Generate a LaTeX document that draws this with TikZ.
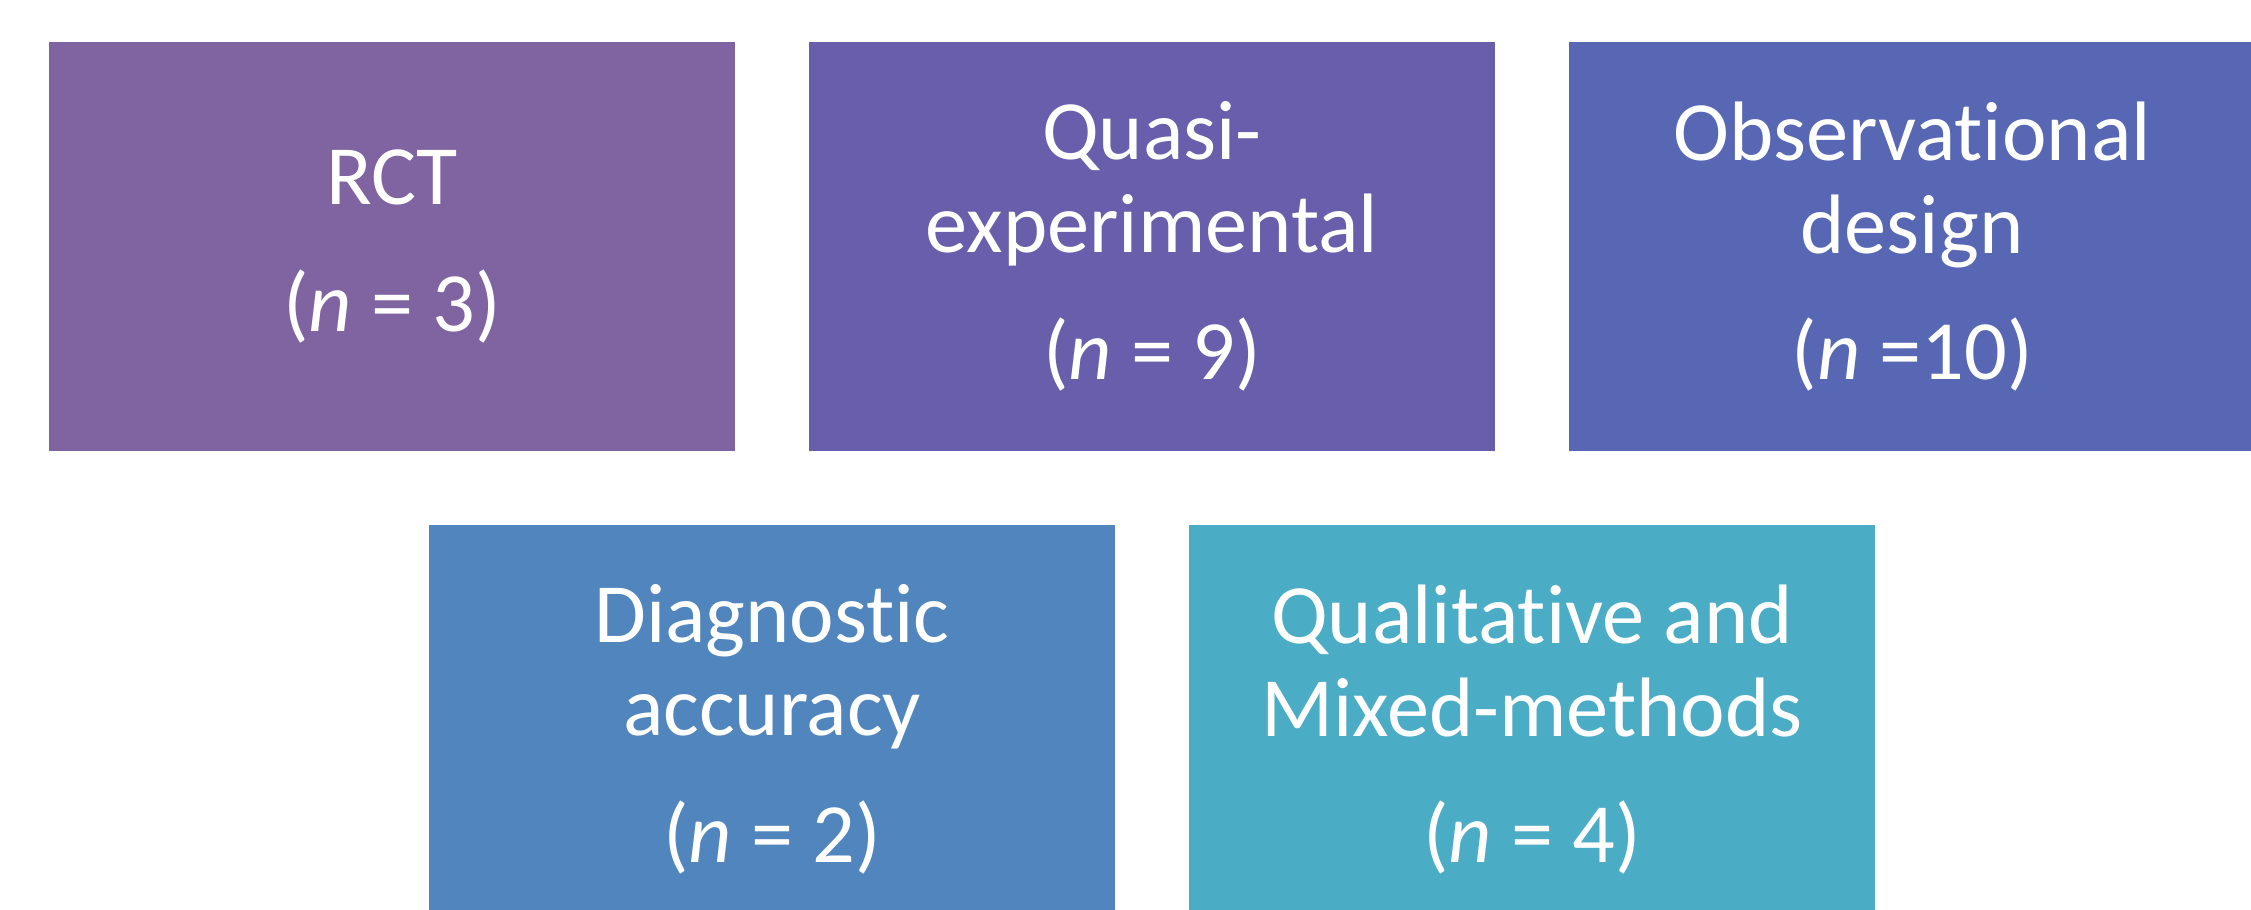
\documentclass[tikz,border=0pt]{standalone}
\usepackage{fontspec}
\setmainfont{Carlito}[RawFeature={-liga;-clig;-dlig;-calt}]
\usepackage{tikz}
\usetikzlibrary{positioning}
\definecolor{np}{HTML}{8064A2}
\definecolor{nv}{HTML}{685EAB}
\definecolor{ni}{HTML}{5767B4}
\definecolor{nb}{HTML}{5185BD}
\definecolor{nt}{HTML}{4BACC6}
\begin{document}
\begin{tikzpicture}[x=1cm,y=1cm,
  design/.style={rectangle,inner sep=0pt,minimum width=6.86cm,minimum height=4.09cm,
    text=white,align=center,font=\fontsize{24}{26.5}\selectfont}]
\useasboundingbox (0,0) rectangle (22.51,-9.09);
\node[design,fill=np] (rct) at (3.92,-2.465) {RCT\\[9.5pt](\textit{n} = 3)};
\node[design,fill=nv] (quasi) at (11.52,-2.465) {Quasi-\\experimental\\[9.5pt](\textit{n} = 9)};
\node[design,fill=ni] (obs) at (19.12,-2.465) {Observational\\design\\[9.5pt](\textit{n} =10)};
\node[design,fill=nb] (diag) at (7.72,-7.295) {Diagnostic\\accuracy\\[9.5pt](\textit{n} = 2)};
\node[design,fill=nt] (qual) at (15.32,-7.295) {Qualitative and\\Mixed-methods\\[9.5pt](\textit{n} = 4)};
\end{tikzpicture}
\end{document}
